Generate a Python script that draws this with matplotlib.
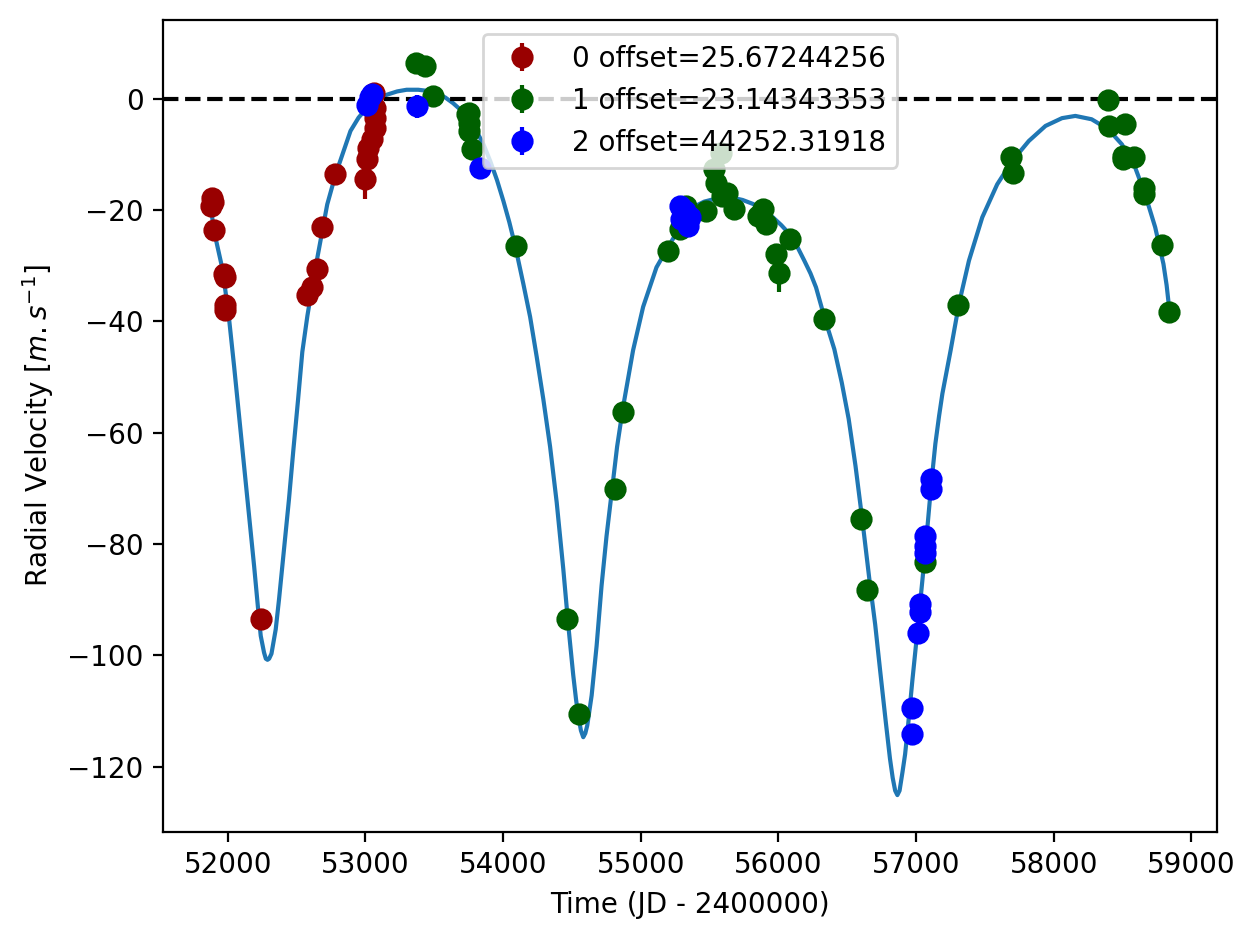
import matplotlib
matplotlib.use("Agg")
import matplotlib.pyplot as plt

# ---- data: instrument 0 (red) ----
t0 = [51880, 51885, 51890, 51898, 51973, 51976, 51978, 51980, 52239, 52578, 52614,
      52650, 52681, 52778, 52993, 53012, 53020, 53047, 53070, 53068, 53066, 53065]
v0 = [-19.2, -17.8, -18.6, -23.6, -31.5, -32.1, -37.1, -38.0, -93.5, -35.3, -33.9,
      -30.6, -23.1, -13.6, -14.5, -10.9, -8.8, -7.3, -5.2, -3.5, -1.7, 1.0]
e0 = [0.8, 0.8, 0.8, 0.8, 0.8, 0.8, 0.8, 0.8, 0.8, 0.8, 0.8,
      0.8, 0.8, 0.8, 3.5, 0.8, 0.8, 0.8, 0.8, 0.8, 0.8, 0.8]

# ---- data: instrument 1 (green) ----
t1 = [53370, 53435, 53487, 53734, 53755, 53750, 53752, 53777, 54092, 54462, 54553,
      54812, 54872, 55198, 55283, 55331, 55476, 55529, 55548, 55585, 55590, 55625,
      55674, 55850, 55886, 55911, 55983, 56002, 56085, 56328, 56599, 56647, 57067,
      57306, 57690, 57707, 58394, 58399, 58519, 58500, 58505, 58580, 58659, 58659,
      58790, 58838]
v1 = [6.4, 5.9, 0.4, -2.8, -2.6, -4.3, -5.8, -9.1, -26.4, -93.5, -110.5,
      -70.1, -56.2, -27.3, -23.4, -19.2, -20.1, -12.7, -15.1, -9.7, -17.4, -16.9,
      -19.8, -21.0, -19.8, -22.5, -27.9, -31.3, -25.2, -39.5, -75.5, -88.3, -83.3,
      -37.0, -10.5, -13.3, -0.2, -4.9, -4.5, -10.9, -10.3, -10.5, -16.0, -17.2,
      -26.2, -38.3]
e1 = [1.1] + [0.8] * 26 + [3.5] + [0.8] * 18

# ---- data: instrument 2 (blue) ----
t2 = [53009, 53030, 53045, 53375, 53833, 55283, 55319, 55355, 55295, 55343,
      56969, 56969, 57017, 57031, 57031, 57065, 57065, 57065, 57111, 57111]
v2 = [-1.1, 0.3, 0.8, -1.4, -12.4, -19.2, -20.1, -21.3, -21.6, -22.8,
      -109.5, -114.2, -95.9, -90.8, -92.3, -78.6, -80.4, -81.6, -68.4, -70.2]
e2 = [0.8, 0.8, 0.8, 2.1, 0.8, 0.8, 0.8, 0.8, 0.8, 0.8,
      0.8, 0.8, 0.8, 0.8, 0.8, 0.8, 0.8, 0.8, 0.8, 0.8]

labels = ["0 offset=25.67244256", "1 offset=23.14343353", "2 offset=44252.31918"]

# ---- model curve ----
ct = [51877, 51898, 51937, 51960, 51985, 52010, 52046, 52082, 52118, 52154, 52191,
      52220, 52239, 52263, 52276, 52288, 52300, 52317, 52348, 52372, 52408, 52444,
      52476, 52510, 52541, 52578, 52606, 52638, 52681, 52722, 52783, 52891, 52950,
      53009, 53080, 53154, 53230, 53299, 53383, 53450, 53516, 53580, 53636, 53700,
      53761, 53810, 53857, 53906, 53955, 54002, 54045, 54087, 54147, 54196, 54244,
      54292, 54341, 54389, 54437, 54473, 54509, 54530, 54546, 54565, 54582, 54597,
      54611, 54643, 54679, 54715, 54751, 54788, 54828, 54872, 54944, 55017, 55114,
      55198, 55283, 55340, 55404, 55460, 55524, 55600, 55669, 55740, 55814, 55890,
      55959, 56020, 56080, 56135, 56188, 56233, 56273, 56333, 56406, 56460, 56510,
      56560, 56611, 56659, 56703, 56740, 56780, 56810, 56830, 56848, 56864, 56880,
      56901, 56920, 56937, 56973, 57010, 57040, 57070, 57111, 57140, 57167, 57191,
      57251, 57312, 57384, 57481, 57589, 57698, 57819, 57940, 58060, 58157, 58275,
      58396, 58495, 58592, 58664, 58737, 58797, 58820, 58838]
cv = [-19.5, -23.6, -27.9, -30.5, -35.0, -39.8, -48.2, -57.1, -66.1, -75.0, -84.0,
      -91.7, -96.5, -99.5, -100.6, -100.8, -100.6, -99.7, -95.3, -89.9, -81.0, -72.0,
      -63.1, -54.1, -45.5, -39.0, -34.8, -30.2, -24.5, -19.0, -13.6, -5.8, -3.4,
      -1.7, -0.3, 0.7, 1.3, 1.6, 1.6, 1.4, 1.0, 0.2, -0.8, -2.2,
      -4.0, -6.0, -8.2, -11.2, -14.6, -18.4, -22.2, -26.4, -33.3, -39.2, -46.4,
      -54.0, -62.5, -72.5, -84.5, -94.5, -103.5, -108.0, -110.8, -113.5, -114.7, -114.0,
      -112.6, -107.2, -98.3, -87.5, -78.6, -70.8, -62.5, -55.3, -45.2, -37.4, -30.3,
      -26.7, -23.1, -21.0, -19.2, -18.5, -18.1, -17.8, -17.8, -18.2, -18.9, -20.0,
      -21.3, -22.7, -24.3, -26.5, -29.1, -31.4, -33.9, -39.2, -45.0, -51.0, -57.5,
      -66.0, -76.0, -86.0, -94.5, -103.0, -112.0, -118.5, -122.0, -124.3, -125.1, -124.3,
      -121.0, -117.8, -113.8, -104.5, -95.5, -88.0, -80.4, -69.0, -62.0, -57.0, -53.0,
      -45.2, -36.8, -29.1, -21.3, -15.4, -11.2, -7.6, -4.9, -3.5, -3.1, -3.7,
      -5.5, -8.2, -12.4, -17.2, -23.1, -29.7, -33.5, -37.5]

W, H, DPI = 1258, 940, 200
fig = plt.figure(figsize=(W / DPI, H / DPI), dpi=DPI)
ax = fig.add_axes([163 / W, 1 - 832 / H, (1217 - 163) / W, (832 - 20) / H])

ax.plot(ct, cv, color="#1f77b4", lw=1.5, zorder=1)
ax.axhline(0, color="k", ls="--", lw=1.5, zorder=1.5)

colors = ["#990000", "#006000", "#0000ff"]
for t, v, e, c, lab in zip([t0, t1, t2], [v0, v1, v2], [e0, e1, e2], colors, labels):
    ax.errorbar(t, v, yerr=e, fmt="o", color=c, ms=7, label=lab, zorder=2)

ax.set_xlabel("Time (JD - 2400000)")
ax.set_ylabel(r"Radial Velocity [$m.s^{-1}$]")
ax.legend(loc="upper center")

fig.savefig("out.png", dpi=DPI)
